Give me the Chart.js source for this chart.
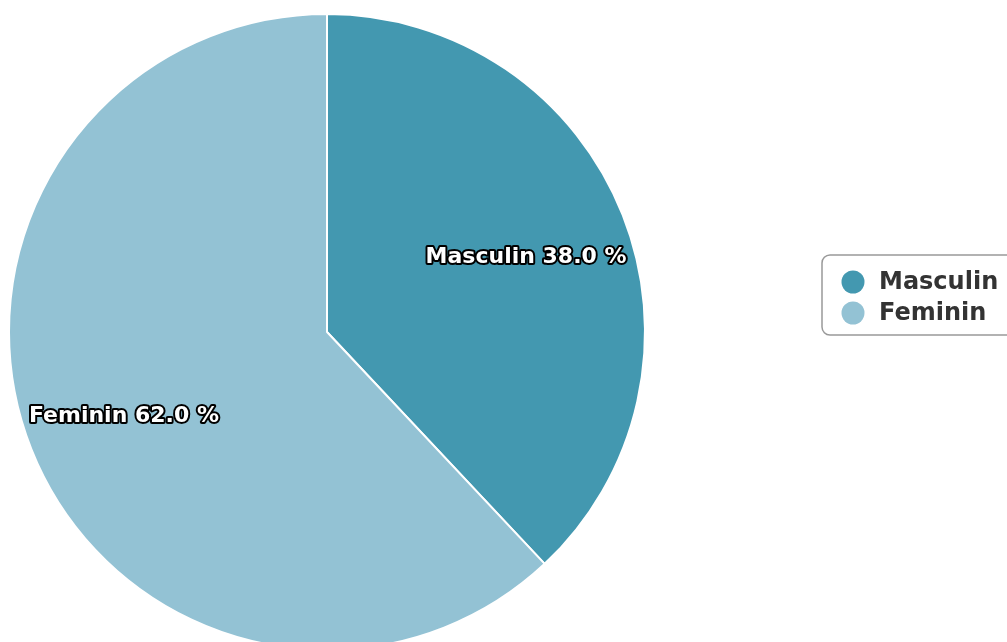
<!DOCTYPE html>
<html>
<head>
<meta charset="utf-8">
<script src="https://cdn.jsdelivr.net/npm/chart.js@4/dist/chart.umd.min.js"></script>
<style>
  html, body { margin: 0; padding: 0; background: #fff; overflow: hidden; }
  #wrap { position: relative; width: 1007px; height: 664px; }
</style>
</head>
<body>
<div id="wrap"><canvas id="chart"></canvas></div>
<script>
const categories = ['Masculin', 'Feminin'];
const shares = [38.0, 62.0];
const colors = ['#4398b0', '#93c2d4'];

const sliceLabels = {
    id: 'sliceLabels',
    afterDatasetsDraw(chart) {
        const ctx = chart.ctx;
        const meta = chart.getDatasetMeta(0);
        ctx.save();
        ctx.font = 'bold 22px "DejaVu Sans"';
        ctx.textAlign = 'center';
        ctx.textBaseline = 'middle';
        ctx.lineJoin = 'round';
        meta.data.forEach((arc, i) => {
            const p = arc.getProps(['x', 'y', 'startAngle', 'endAngle', 'outerRadius'], true);
            const mid = (p.startAngle + p.endAngle) / 2;
            const r = p.outerRadius * 0.68;
            const x = p.x + Math.cos(mid) * r - 2;
            const y = p.y + Math.sin(mid) * r + 5;
            const text = categories[i] + ' ' + shares[i].toFixed(1) + ' %';
            ctx.lineWidth = 4;
            ctx.strokeStyle = '#000';
            ctx.strokeText(text, x, y);
            ctx.fillStyle = '#fff';
            ctx.fillText(text, x, y);
        });
        ctx.restore();
    }
};

const sideLegend = {
    id: 'sideLegend',
    afterDraw(chart) {
        const ctx = chart.ctx;
        ctx.save();
        const bx = 822, by = 255, bw = 200, bh = 80, rad = 8;
        ctx.beginPath();
        ctx.roundRect(bx, by, bw, bh, rad);
        ctx.fillStyle = '#fff';
        ctx.fill();
        ctx.lineWidth = 1.5;
        ctx.strokeStyle = '#999';
        ctx.stroke();
        ctx.font = 'bold 24px "DejaVu Sans"';
        ctx.textBaseline = 'middle';
        categories.forEach((name, i) => {
            const y = 282 + i * 31;
            ctx.beginPath();
            ctx.arc(853, y, 11.5, 0, Math.PI * 2);
            ctx.fillStyle = colors[i];
            ctx.fill();
            ctx.fillStyle = '#333';
            ctx.fillText(name, 879, y + 1);
        });
        ctx.restore();
    }
};

new Chart(document.getElementById('chart'), {
    type: 'pie',
    data: {
        labels: categories,
        datasets: [{
            data: shares,
            backgroundColor: colors,
            borderColor: '#fff',
            borderWidth: 2
        }]
    },
    options: {
        responsive: true,
        maintainAspectRatio: false,
        animation: false,
        layout: { padding: { left: 8, top: 13, bottom: 13, right: 361 } },
        plugins: {
            legend: { display: false },
            tooltip: { enabled: false }
        }
    },
    plugins: [sliceLabels, sideLegend]
});
</script>
</body>
</html>
